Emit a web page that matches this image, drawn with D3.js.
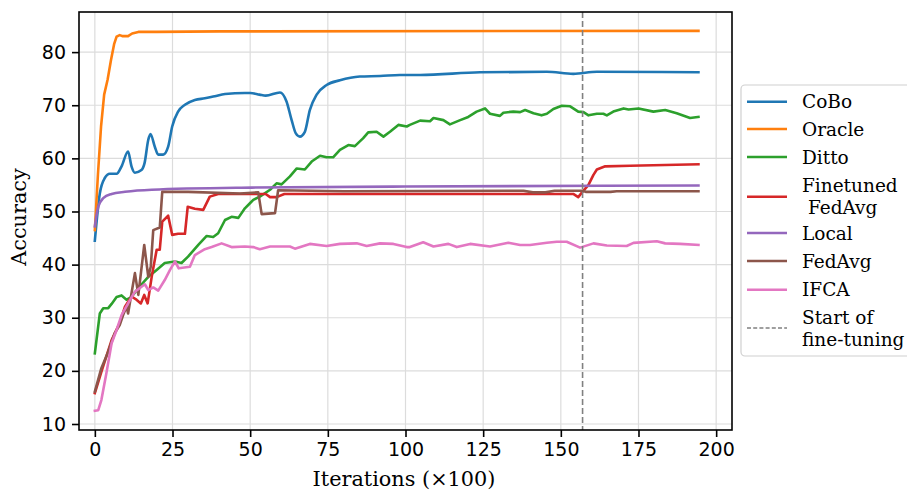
<!DOCTYPE html>
<html>
<head>
<meta charset="utf-8">
<script src="https://cdn.jsdelivr.net/npm/d3@7"></script>
<style>
  body { margin: 0; background: #fff; }
  svg { display: block; }
  .tick text { font-family: 'DejaVu Sans', sans-serif; font-size: 19px; fill: #000; }
</style>
</head>
<body>
<svg id="chart"></svg>
<script>
// series names, legend order
const seriesNames = ['CoBo', 'Oracle', 'Ditto', 'Finetuned\n FedAvg', 'Local', 'FedAvg', 'IFCA'];
const seriesColors = ['#1f77b4', '#ff7f0e', '#2ca02c', '#d62728', '#9467bd', '#8c564b', '#e377c2'];

// [iteration (x100), accuracy]
const cobo = [[0,44.5],[1.6,53.4],[3.2,56.3],[4.8,57.1],[7,57.1],[8.6,58.5],[10.7,61.3],[11.8,58.5],[12.9,57.3],[15,57.8],[16,59.1],[17.2,63.5],[17.9,64.6],[19.3,62.2],[20.4,60.7],[22,60.7],[23.6,62.2],[24.9,66],[26.8,68.8],[29,70.1],[32.2,71],[35.4,71.3],[38.6,71.7],[41.9,72.1],[48.3,72.3],[50,72.3],[53,72],[55,71.8],[59.6,72.4],[61.7,70.7],[63.3,67.3],[64.7,64.7],[66,64.1],[67.6,65],[69.2,69.1],[71.4,72],[74.6,73.8],[78.9,74.7],[85.3,75.4],[91.8,75.5],[98.2,75.7],[104.7,75.7],[124,76.2],[145.5,76.3],[154,75.9],[161.6,76.3],[194.3,76.2]];
const oracle = [[0,46.5],[1,57],[2,66],[3,72],[4.1,74.8],[5.2,78.5],[6.2,81.5],[7,82.9],[8,83.2],[9,83],[10.7,83],[12,83.5],[14,83.8],[20,83.8],[40,83.9],[194.3,84]];
const ditto = [[0,23.3],[1.6,30.8],[2.7,31.8],[4.3,31.8],[5.4,32.6],[7,33.9],[8.6,34.2],[10.2,33.4],[11.8,33.9],[14,35.6],[17.2,37.7],[19.9,39],[22.5,40.3],[25.8,40.6],[27.9,40.3],[30,41.5],[33.3,43.7],[36,45.4],[38.1,45.2],[39.7,45.9],[41.9,48.4],[44,49],[46.2,48.8],[48.3,50.6],[50,51.6],[51,52.2],[53.1,52.8],[56.4,54.1],[58.5,55.3],[60.1,55.1],[62.8,56.6],[65,58.1],[67.6,57.9],[69.8,59.4],[72.5,60.5],[74.6,60.2],[76.7,60.2],[78.9,61.6],[81.6,62.5],[83.7,62.3],[86.4,63.8],[88,64.9],[90.7,65],[92.9,64.1],[95,65],[97.7,66.3],[100.4,66],[101.4,66.3],[104.7,67.1],[107.9,67],[109,67.6],[112.2,67.2],[114.3,66.4],[117.6,67.2],[120.2,67.8],[122.9,68.8],[125.6,69.4],[127.2,68.4],[130.4,68],[131.5,68.6],[134.7,68.8],[136.9,68.7],[138.5,69.1],[141.2,68.5],[143.8,68.1],[145.5,68.4],[147.6,69.3],[150.3,69.9],[153,69.8],[155.6,68.8],[157.3,68.7],[158.9,68.1],[161.6,68.4],[163.7,68.4],[164.8,68.1],[166.9,68.8],[170.2,69.4],[171.8,69.2],[175,69.4],[179.8,68.8],[183.6,69.1],[187.3,68.5],[191.6,67.6],[194.3,67.8]];
const finetuned = [[0,15.8],[2.1,19.8],[5.4,25.8],[8,29],[9.7,32.1],[11.8,34],[13.4,33.4],[14.8,32.7],[15.9,34.3],[17,32.7],[18.3,37.7],[19.9,42.8],[20.9,42.8],[21.7,48.1],[23.6,49.2],[24.9,45.6],[26.8,45.8],[29,45.8],[29.9,50.9],[32.2,50.5],[34.9,50.3],[37,52.8],[39.7,53.3],[55,53.3],[56.4,52.7],[58.5,52.7],[61,53.3],[100,53.3],[154,53.3],[155.6,52.7],[156.7,53.5],[158.9,55],[160.5,56.9],[161.6,57.9],[164.3,58.5],[172.3,58.6],[194.3,58.9]];
const local = [[0,47.2],[1.1,50.9],[2.7,52.5],[5.4,53.3],[9.7,53.7],[18.3,54.1],[50.5,54.5],[100,54.7],[194.3,54.9]];
const fedavg = [[0,16.1],[2.1,20.5],[4.3,23.6],[6.4,27.1],[8,28.6],[9.1,30.5],[10.2,32.1],[10.7,30.8],[12.9,38.4],[14,34.3],[15.9,43.7],[17.2,37.7],[18,39.6],[18.8,46.5],[20.9,47],[21.7,53.7],[30,53.7],[46.7,53.4],[52.6,53.6],[53.7,49.5],[58,49.7],[59,54],[80,53.8],[138,53.9],[141,53.6],[145,53.6],[148,53.9],[157,53.9],[158,53.7],[166,53.7],[168,53.8],[194.3,53.8]];
const ifca = [[0,12.5],[1.1,12.6],[2.1,14.5],[3.7,19.5],[5.4,25.2],[7,27.7],[8.6,30.5],[10.7,32.7],[12.9,34.9],[14.5,35.6],[16.1,36.3],[17.2,35.2],[18.8,35.7],[20.4,35.1],[22.5,37.1],[24.2,39],[25.8,40.6],[27,39.3],[30.6,39.6],[32.2,41.8],[35.4,42.9],[37.6,43.3],[40.8,44],[44,43.3],[48.3,43.4],[51,43.3],[53.1,42.9],[56.4,43.4],[62.8,43.4],[64.4,43],[69.2,43.9],[74.6,43.5],[78.9,43.9],[84.3,44],[87.5,43.5],[91.8,44],[96.1,43.9],[100.4,43.3],[101.4,43.3],[105.7,44.2],[109,43.4],[113.8,43.9],[116.5,43.3],[120.8,43.9],[127.2,43.4],[133.1,44.1],[136.9,43.7],[140.1,43.7],[145.5,44.1],[148.7,44.3],[151.9,44.3],[156.2,43.2],[160.5,44],[164.8,43.6],[171.2,43.5],[173.4,44.1],[180.9,44.4],[183.6,44],[188.4,43.9],[194.3,43.7]];
const seriesValues = [cobo, oracle, ditto, finetuned, local, fedavg, ifca];

// axis ticks and the fine-tuning marker
const xTicks = [0, 25, 50, 75, 100, 125, 150, 175, 200];
const yTicks = [10, 20, 30, 40, 50, 60, 70, 80];
const fineTuneStart = 157;

// settings object
const config = {
  width: 907,
  height: 490,
  plot: { left: 79, right: 732, top: 12, bottom: 430 },
  legend: { x: 741, y: 85, width: 180, height: 271 },
};

const svg = d3.select('#chart')
  .attr('width', config.width)
  .attr('height', config.height);

const scaleX = d3.scaleLinear()
  .domain([-5.1, 205.1])
  .range([config.plot.left, config.plot.right]);

const scaleY = d3.scaleLinear()
  .domain([8.87, 87.55])
  .range([config.plot.bottom, config.plot.top]);

// grid lines
const grid = svg.append('g').attr('class', 'grid');
grid.selectAll('.gx').data(xTicks).enter().append('line')
  .attr('x1', d => scaleX(d)).attr('x2', d => scaleX(d))
  .attr('y1', config.plot.top).attr('y2', config.plot.bottom)
  .attr('stroke', '#dcdcdc').attr('stroke-width', 1.2);
grid.selectAll('.gy').data(yTicks).enter().append('line')
  .attr('x1', config.plot.left).attr('x2', config.plot.right)
  .attr('y1', d => scaleY(d)).attr('y2', d => scaleY(d))
  .attr('stroke', '#dcdcdc').attr('stroke-width', 1.2);

// lines
const line = d3.line()
  .x(d => scaleX(d[0]))
  .y(d => scaleY(d[1]));

const smoothLine = d3.line()
  .x(d => scaleX(d[0]))
  .y(d => scaleY(d[1]))
  .curve(d3.curveMonotoneX);

svg.append('defs').append('clipPath').attr('id', 'clip')
  .append('rect')
  .attr('x', config.plot.left).attr('y', config.plot.top)
  .attr('width', config.plot.right - config.plot.left)
  .attr('height', config.plot.bottom - config.plot.top);

const lines = svg.append('g').attr('clip-path', 'url(#clip)');
seriesValues.forEach((values, i) => {
  lines.append('path')
    .attr('d', (i === 0 || i === 4) ? smoothLine(values) : line(values))
    .attr('fill', 'none')
    .attr('stroke', seriesColors[i])
    .attr('stroke-width', 2.6)
    .attr('stroke-linejoin', 'round')
    .attr('stroke-linecap', 'square');
});

// dashed marker for start of fine-tuning
lines.append('line')
  .attr('x1', scaleX(fineTuneStart)).attr('x2', scaleX(fineTuneStart))
  .attr('y1', config.plot.top).attr('y2', config.plot.bottom)
  .attr('stroke', '#808080')
  .attr('stroke-width', 1.6)
  .attr('stroke-dasharray', '6,3');

// axes
const xAxis = d3.axisBottom(scaleX).tickValues(xTicks).tickSize(7).tickPadding(6);
const yAxis = d3.axisLeft(scaleY).tickValues(yTicks).tickSize(7).tickPadding(6);

svg.append('g')
  .attr('transform', `translate(0, ${config.plot.bottom})`)
  .call(xAxis)
  .call(g => g.select('.domain').remove())
  .call(g => g.selectAll('.tick line').attr('stroke', '#000').attr('stroke-width', 1.6));

svg.append('g')
  .attr('transform', `translate(${config.plot.left}, 0)`)
  .call(yAxis)
  .call(g => g.select('.domain').remove())
  .call(g => g.selectAll('.tick line').attr('stroke', '#000').attr('stroke-width', 1.6));

// frame
svg.append('rect')
  .attr('x', config.plot.left).attr('y', config.plot.top)
  .attr('width', config.plot.right - config.plot.left)
  .attr('height', config.plot.bottom - config.plot.top)
  .attr('fill', 'none')
  .attr('stroke', '#000')
  .attr('stroke-width', 1.6);

// axis labels
svg.append('text')
  .text('Iterations (×100)')
  .attr('x', 404)
  .attr('y', 485.5)
  .attr('text-anchor', 'middle')
  .attr('font-family', 'DejaVu Serif, serif')
  .attr('font-size', 20.8);

svg.append('text')
  .text('Accuracy')
  .attr('transform', 'translate(25.5, 217) rotate(-90)')
  .attr('text-anchor', 'middle')
  .attr('font-family', 'DejaVu Serif, serif')
  .attr('font-size', 20.8);

// legend
const legend = svg.append('g').attr('class', 'legend');
legend.append('rect')
  .attr('x', config.legend.x).attr('y', config.legend.y)
  .attr('width', config.legend.width).attr('height', config.legend.height)
  .attr('rx', 4)
  .attr('fill', '#fff')
  .attr('fill-opacity', 0.8)
  .attr('stroke', '#d0d0d0')
  .attr('stroke-width', 1.2);

const legendItems = seriesNames.map((name, i) => ({ name, color: seriesColors[i], dash: null }))
  .concat([{ name: 'Start of\nfine-tuning', color: '#808080', dash: '4,2.2' }]);
const handleY = [101.7, 129, 157, 196.7, 233, 261, 289.7, 328];

legendItems.forEach((item, i) => {
  const rows = item.name.split('\n');
  legend.append('line')
    .attr('x1', 747).attr('x2', 787)
    .attr('y1', handleY[i]).attr('y2', handleY[i])
    .attr('stroke', item.color)
    .attr('stroke-width', item.dash ? 1.6 : 2.6)
    .attr('stroke-dasharray', item.dash);
  const text = legend.append('text')
    .attr('font-family', 'DejaVu Serif, serif')
    .attr('font-size', 18.5)
    .attr('xml:space', 'preserve');
  const first = handleY[i] + 6.6 - (rows.length - 1) * 10.9;
  rows.forEach((row, j) => {
    text.append('tspan')
      .attr('x', 802)
      .attr('y', first + j * 21.8)
      .text(row);
  });
});
</script>
</body>
</html>
